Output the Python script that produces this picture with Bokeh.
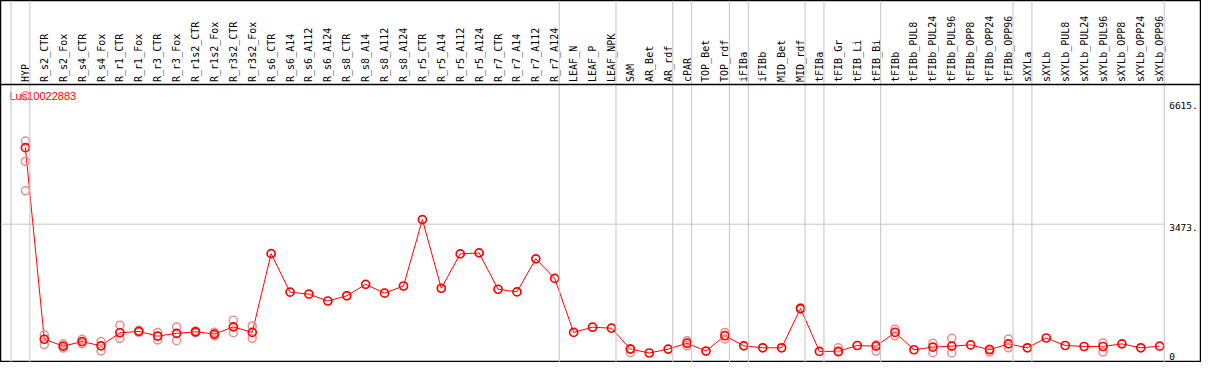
import numpy as np
from bokeh.plotting import figure
from bokeh.models import Range1d, Span
from bokeh.core.properties import value
from bokeh.embed import file_html
from bokeh.resources import INLINE

gene = "Lus10022883"

groups = [
    ["HYP"],
    ["R_s2_CTR", "R_s2_Fox", "R_s4_CTR", "R_s4_Fox", "R_r1_CTR", "R_r1_Fox",
     "R_r3_CTR", "R_r3_Fox", "R_r1s2_CTR", "R_r1s2_Fox", "R_r3s2_CTR", "R_r3s2_Fox",
     "R_s6_CTR", "R_s6_A14", "R_s6_A112", "R_s6_A124", "R_s8_CTR", "R_s8_A14",
     "R_s8_A112", "R_s8_A124", "R_r5_CTR", "R_r5_A14", "R_r5_A112", "R_r5_A124",
     "R_r7_CTR", "R_r7_A14", "R_r7_A112", "R_r7_A124"],
    ["LEAF_N", "LEAF_P", "LEAF_NPK"],
    ["SAM", "AR_Bet", "AR_rdf"],
    ["cPAR"],
    ["TOP_Bet", "TOP_rdf"],
    ["iFIBa"],
    ["iFIBb", "MID_Bet", "MID_rdf"],
    ["tFIBa"],
    ["tFIB_Gr", "tFIB_Li", "tFIB_Bi"],
    ["tFIBb", "tFIBb_PUL8", "tFIBb_PUL24", "tFIBb_PUL96", "tFIBb_OPP8",
     "tFIBb_OPP24", "tFIBb_OPP96"],
    ["sXYLa"],
    ["sXYLb", "sXYLb_PUL8", "sXYLb_PUL24", "sXYLb_PUL96", "sXYLb_OPP8",
     "sXYLb_OPP24", "sXYLb_OPP96"],
]

mean_values = [
    5435,
    521, 345, 461, 352, 688, 722, 604, 672, 713, 654, 838, 697,
    2718, 1729, 1678, 1502, 1636, 1930, 1703, 1887,
    3591, 1829, 2710, 2735, 1804, 1736, 2584, 2081,
    697, 830, 805,
    269, 169, 269,
    420,
    219, 612,
    352,
    302, 302, 1309,
    210,
    210, 361, 344,
    697, 252, 319, 344, 377, 252, 403,
    302,
    554, 361, 336, 336, 403, 302, 344,
]

rep_categories = [
    "HYP", "HYP", "HYP", "HYP",
    "R_s2_CTR", "R_s2_CTR", "R_s2_Fox", "R_s2_Fox", "R_s4_CTR", "R_s4_CTR",
    "R_s4_Fox", "R_s4_Fox", "R_r1_CTR", "R_r1_CTR", "R_r1_Fox", "R_r1_Fox",
    "R_r3_CTR", "R_r3_CTR", "R_r3_Fox", "R_r3_Fox", "R_r1s2_CTR", "R_r1s2_CTR",
    "R_r1s2_Fox", "R_r1s2_Fox", "R_r3s2_CTR", "R_r3s2_CTR", "R_r3s2_Fox", "R_r3s2_Fox",
    "SAM", "SAM", "cPAR", "cPAR", "TOP_rdf", "TOP_rdf", "MID_rdf", "MID_rdf",
    "tFIB_Gr", "tFIB_Gr", "tFIB_Bi", "tFIB_Bi", "tFIBb", "tFIBb",
    "tFIBb_PUL24", "tFIBb_PUL24", "tFIBb_PUL96", "tFIBb_PUL96",
    "tFIBb_OPP24", "tFIBb_OPP24", "tFIBb_OPP96", "tFIBb_OPP96",
    "sXYLb_PUL96", "sXYLb_PUL96",
]
rep_values = [
    6769, 5604, 5083, 4328,
    637, 385, 403, 294, 521, 403,
    461, 219, 881, 546, 745, 700,
    697, 503, 838, 486, 730, 690,
    700, 610, 1007, 688, 864, 546,
    280, 176, 486, 352, 697, 528, 1330, 1290,
    302, 190, 380, 219, 780, 612,
    420, 176, 546, 169,
    270, 193, 528, 302,
    428, 193,
]

y_ticks = [0, 3473, 6615]
y_tick_labels = ["0", "3473.", "6615."]

categories = [c for g in groups for c in g]
idx = {c: i for i, c in enumerate(categories)}
xs = list(range(len(categories)))
group_starts = []
k = 0
for g in groups:
    group_starts.append(k)
    k += len(g)
group_starts.append(k)

X0, X1 = -1.316, 62.21
p = figure(width=1201, height=362, x_range=Range1d(X0, X1), y_range=Range1d(-75, 9210),
           x_axis_type=None, y_axis_type=None, toolbar_location=None,
           output_backend="svg", min_border=0)
p.grid.visible = False
p.outline_line_color = "black"
p.outline_line_width = 1.5
p.background_fill_color = "white"
p.border_fill_color = "white"

sep_off = 0.76
for s in group_starts:
    p.add_layout(Span(location=s - sep_off, dimension="height",
                      line_color="#c4c4c4", line_width=1))

last_sep = group_starts[-1] - sep_off
p.segment(x0=[X0], y0=[y_ticks[1]], x1=[last_sep], y1=[y_ticks[1]],
          line_color="#c4c4c4", line_width=1)

p.add_layout(Span(location=7058, dimension="width", line_color="black", line_width=1.5))

p.line(xs, mean_values, line_color="red", line_width=1)
p.scatter([idx[c] for c in rep_categories], rep_values, marker="circle", size=8,
          fill_color=None, line_color="#ec8c8c", line_width=1.5)
p.scatter(xs, mean_values, marker="circle", size=8, fill_color=None,
          line_color="red", line_width=1.7)

p.text(x=xs, y=[7121] * len(xs), text=categories, angle=np.pi / 2,
       text_font=value("DejaVu Sans Mono"), text_font_size="10px",
       text_align="left", text_baseline="middle", text_color="black")

p.text(x=[-0.842], y=[6769], text=[gene], text_font=value("Liberation Sans"),
       text_font_size="11px", text_align="left", text_baseline="middle",
       text_color="red")

p.text(x=[60.5, 60.5], y=y_ticks[1:], text=y_tick_labels[1:],
       text_font=value("DejaVu Sans Mono"), text_font_size="9.5px",
       text_align="left", text_baseline="top", text_color="black")
p.text(x=[60.5], y=y_ticks[:1], text=y_tick_labels[:1],
       text_font=value("DejaVu Sans Mono"), text_font_size="9.5px",
       text_align="left", text_baseline="bottom", text_color="black")

open("out.html", "w").write(file_html(p, INLINE))
